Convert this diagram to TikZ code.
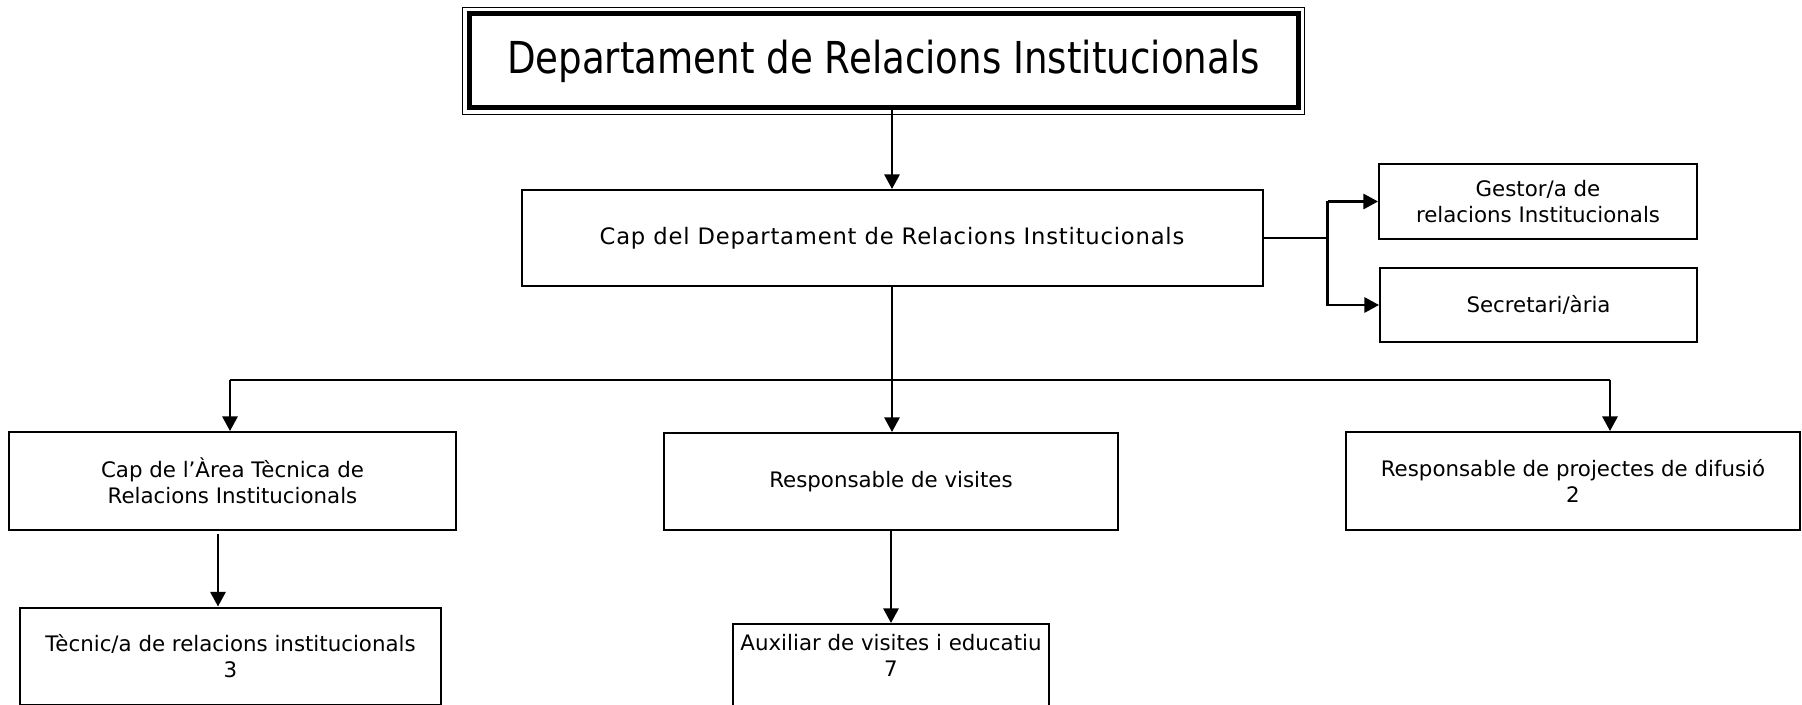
\documentclass[tikz,border=0pt]{standalone}
\usepackage{fontspec}
\setmainfont{DejaVu Sans}
\usetikzlibrary{arrows.meta,positioning}

\begin{document}
\begin{tikzpicture}[
    x=0.75pt, y=-0.75pt,
    box/.style={draw, line width=1.5pt, align=center, inner sep=0pt, font=\fontsize{16}{19.5}\selectfont},
    txt/.style={align=center, inner sep=0pt, font=\fontsize{16}{19.5}\selectfont},
    line/.style={-{Triangle[length=11pt, width=11.5pt]}, line width=1.6pt},
    thin/.style={line width=0.9pt},
  ]
  \useasboundingbox (0,0) rectangle (1802,705);
  \clip (0,0) rectangle (1802,705);
  \node[draw, line width=3.75pt, minimum width=621.75pt, minimum height=70.5pt, inner sep=0pt] (dept) at (883.5,61)
    {\scalebox{0.845}[1]{\fontsize{33}{36}\selectfont Departament de Relacions Institucionals}};
  \draw[line width=1pt] ([shift={(-3pt,3pt)}]dept.north west) rectangle ([shift={(3pt,-3pt)}]dept.south east);
  \node[box, minimum width=555.75pt, minimum height=72pt] (cap) at (892,238)
    {\fontsize{17}{20}\selectfont\addfontfeatures{LetterSpace=3.5}Cap del Departament de Relacions Institucionals};
  \node[box, minimum width=238.5pt, minimum height=56.25pt] (gest) at (1538,201.5) {Gestor/a de\\relacions Institucionals};
  \node[box, minimum width=237.75pt, minimum height=55.5pt] (secr) at (1538.5,305) {Secretari/ària};
  \node[box, minimum width=335.25pt, minimum height=73.5pt] (area) at (232.5,481) {Cap de l’Àrea Tècnica de\\Relacions Institucionals};
  \node[box, minimum width=340.5pt, minimum height=72.75pt] (vis) at (891,481.5) {Responsable de visites};
  \node[box, minimum width=340.5pt, minimum height=73.5pt] (dif) at (1573,481) {Responsable de projectes de difusió\\2};
  \node[box, minimum width=315.75pt, minimum height=72.75pt] (tec) at (230.5,656) {Tècnic/a de relacions institucionals\\3};
  \node[box, minimum width=237pt, minimum height=72.75pt] (aux) at (891,672.5) {};
  \node[txt, below=8.5pt] (auxtxt) at (aux.north) {Auxiliar de visites i educatiu\\7};

  \draw[line] (dept.south -| cap.north) -- (cap.north);
  \draw[thin] (cap.east) -- ++(64,0) coordinate (fork);
  \draw[line] (fork |- gest.west) -- (gest.west);
  \draw[line] (fork |- gest.west) |- (secr.west);

  \coordinate (barL) at (230,380);
  \coordinate (barR) at (1610,380);
  \draw[line width=1.6pt] (barL) -- (barR);
  \draw[line] (barL) -- (barL |- area.north);
  \draw[line] (barR) -- (barR |- dif.north);
  \draw[line] (cap.south) -- (cap.south |- vis.north);

  \coordinate (t1) at (218,534);
  \draw[line] (t1) -- (t1 |- tec.north);
  \draw[line] (vis.south) -- (vis.south |- aux.north);
\end{tikzpicture}
\end{document}
